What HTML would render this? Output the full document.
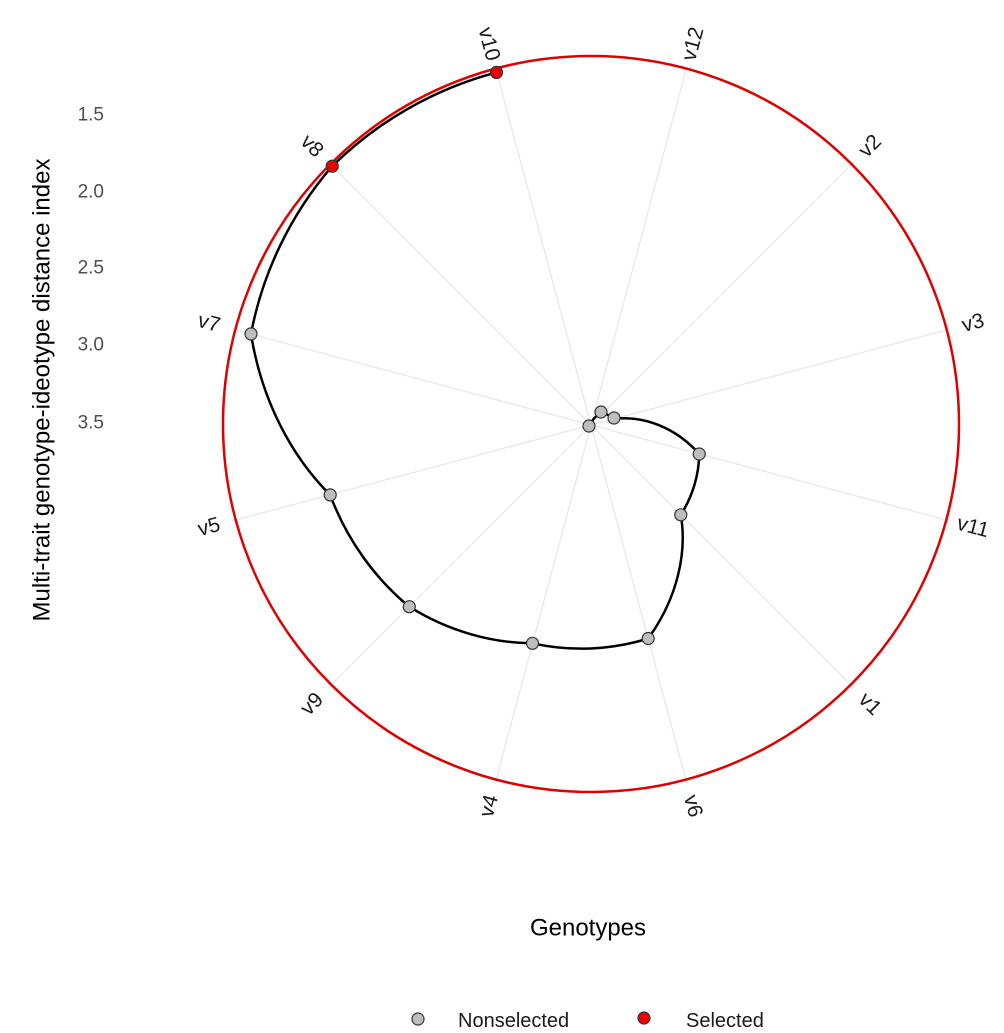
<!DOCTYPE html>
<html><head><meta charset="utf-8"><style>
html,body{margin:0;padding:0;background:#fff;}
svg{display:block;font-family:"Liberation Sans",Arial,sans-serif;}
</style></head><body>
<svg width="1004" height="1033" viewBox="0 0 1004 1033" xmlns="http://www.w3.org/2000/svg">
<g stroke="#ebebeb" stroke-width="1.5">
<line x1="591" y1="425" x2="495" y2="66"/>
<line x1="591" y1="425" x2="687" y2="66"/>
<line x1="591" y1="425" x2="854" y2="162"/>
<line x1="591" y1="425" x2="950" y2="329"/>
<line x1="591" y1="425" x2="950" y2="521"/>
<line x1="591" y1="425" x2="854" y2="688"/>
<line x1="591" y1="425" x2="687" y2="784"/>
<line x1="591" y1="425" x2="495" y2="784"/>
<line x1="591" y1="425" x2="328" y2="688"/>
<line x1="591" y1="425" x2="232" y2="521"/>
<line x1="591" y1="425" x2="232" y2="329"/>
<line x1="591" y1="425" x2="328" y2="162"/>
</g>
<circle cx="591" cy="424" r="368" fill="none" stroke="#e00000" stroke-width="2.5"/>
<path fill="none" stroke="#000" stroke-width="2.5" d="M496.5,72.4 C434.9,88.6 377.6,121.3 332.2,166.2 C290.3,214.7 262.4,273.4 251,333.9 C261.5,400.3 291.6,456.5 330.2,494.9 C346.6,539.3 374.6,578.1 409.3,606.7 C448.3,631.1 491.8,643.1 532.5,643.3 C571,651.9 611.3,650.1 648.2,638.5 C677.4,598.2 687.3,552.7 680.8,514.8 C693,495.6 699,474.1 699.2,454 C675.9,427.6 643.6,415.3 614.2,418.8 C610.5,415.4 606.2,413.8 602.3,413.7 C597.3,414.8 593.4,418.1 591.8,422.1"/>
<g stroke="#333" stroke-width="1.2" fill="#bdbdbd">
<circle cx="589" cy="426" r="6"/>
<circle cx="601" cy="412" r="6"/>
<circle cx="614" cy="418" r="6"/>
<circle cx="699.2" cy="454" r="6"/>
<circle cx="680.8" cy="514.8" r="6"/>
<circle cx="648.2" cy="638.5" r="6"/>
<circle cx="532.5" cy="643.3" r="6"/>
<circle cx="409.3" cy="606.7" r="6"/>
<circle cx="330.2" cy="494.9" r="6"/>
<circle cx="251" cy="333.9" r="6"/>
</g>
<g stroke="#333" stroke-width="1.2" fill="#ee0000">
<circle cx="332.2" cy="166.2" r="6"/>
<circle cx="496.5" cy="72.4" r="6"/>
</g>
<g font-size="21" fill="#1a1a1a" text-anchor="middle" dominant-baseline="central">
<text transform="translate(489,44) rotate(75)">v10</text>
<text transform="translate(693,44) rotate(-75)">v12</text>
<text transform="translate(870,146) rotate(-45)">v2</text>
<text transform="translate(973,323) rotate(-15)">v3</text>
<text transform="translate(973,527) rotate(15)">v11</text>
<text transform="translate(870,704) rotate(45)">v1</text>
<text transform="translate(693,806) rotate(75)">v6</text>
<text transform="translate(489,806) rotate(-75)">v4</text>
<text transform="translate(312,704) rotate(-45)">v9</text>
<text transform="translate(209,527) rotate(-15)">v5</text>
<text transform="translate(209,323) rotate(15)">v7</text>
<text transform="translate(312,146) rotate(45)">v8</text>
</g>
<g font-size="19" fill="#4d4d4d" text-anchor="end" dominant-baseline="central">
<text x="104" y="115">1.5</text>
<text x="104" y="192">2.0</text>
<text x="104" y="268">2.5</text>
<text x="104" y="345">3.0</text>
<text x="104" y="423">3.5</text>
</g>
<text transform="translate(42,390) rotate(-90)" font-size="24" fill="#000" text-anchor="middle" dominant-baseline="central">Multi-trait genotype-ideotype distance index</text>
<text x="588" y="928" font-size="24" fill="#000" text-anchor="middle" dominant-baseline="central">Genotypes</text>
<circle cx="418" cy="1019" r="6" fill="#bdbdbd" stroke="#333" stroke-width="1.2"/>
<text x="458" y="1021" font-size="20" fill="#1a1a1a" dominant-baseline="central">Nonselected</text>
<circle cx="644" cy="1018" r="6" fill="#ee0000" stroke="#333" stroke-width="1.2"/>
<text x="686" y="1021" font-size="20" fill="#1a1a1a" dominant-baseline="central">Selected</text>
</svg>
</body></html>
